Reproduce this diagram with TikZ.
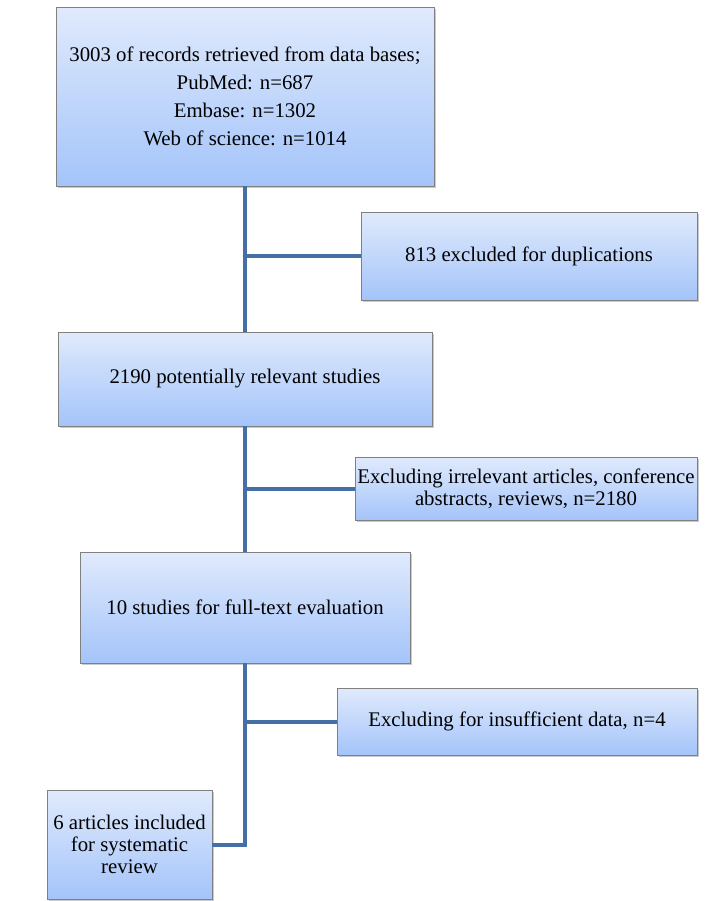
\documentclass[tikz,border=0pt]{standalone}
\usepackage{fontspec}
\setmainfont{Liberation Serif}
\usetikzlibrary{shadows}
\definecolor{boxtop}{RGB}{224,234,252}
\definecolor{boxbot}{RGB}{164,196,250}
\definecolor{boxedge}{RGB}{128,128,128}
\definecolor{conncol}{RGB}{68,112,166}
\tikzset{
  box/.style={draw=boxedge, line width=0.6pt, top color=boxtop, bottom color=boxbot,
    inner sep=0pt, align=center, font=\fontsize{15.6}{16.5}\selectfont,
    drop shadow={opacity=0.35, shadow xshift=1.2pt, shadow yshift=-1.8pt, fill=black!60}},
  conn/.style={draw=conncol, line width=3pt}
}
\begin{document}
\begin{tikzpicture}[x=0.75pt,y=-0.75pt]
\useasboundingbox (0,0) rectangle (706,901);
\node[box, minimum width=283.5pt, minimum height=134.25pt] (b1) at (245,96.5)
  {3003 of records retrieved from data bases;\\[4.5pt] PubMed: n=687\\[4.5pt] Embase: n=1302\\[4.5pt] Web of science: n=1014};
\node[box, minimum width=252pt, minimum height=66pt] (b2) at (529,256) {813 excluded for duplications};
\node[box, minimum width=280.5pt, minimum height=70.5pt] (b3) at (245,379) {2190 potentially relevant studies};
\node[box, minimum width=256.5pt, minimum height=47.25pt] (b4) at (526,488.5) {Excluding irrelevant articles, conference\\abstracts, reviews, n=2180};
\node[box, minimum width=247.5pt, minimum height=83.25pt] (b5) at (245,607.5) {10 studies for full-text evaluation};
\node[box, minimum width=270pt, minimum height=50.25pt] (b6) at (517,721.5) {Excluding for insufficient data, n=4};
\node[box, minimum width=123.75pt, minimum height=81.75pt] (b7) at (129.5,844.5) {6 articles included\\for systematic\\review};
\coordinate (j1) at (245,256);
\coordinate (j2) at (245,488.5);
\coordinate (j3) at (245,721.5);
\draw[conn] (b1.south) -- (b3.north);
\draw[conn] (j1) -- (b2.west);
\draw[conn] (b3.south) -- (b5.north);
\draw[conn] (j2) -- (b4.west);
\draw[conn] (b5.south) |- (b7.east);
\draw[conn] (j3) -- (b6.west);
\end{tikzpicture}
\end{document}
